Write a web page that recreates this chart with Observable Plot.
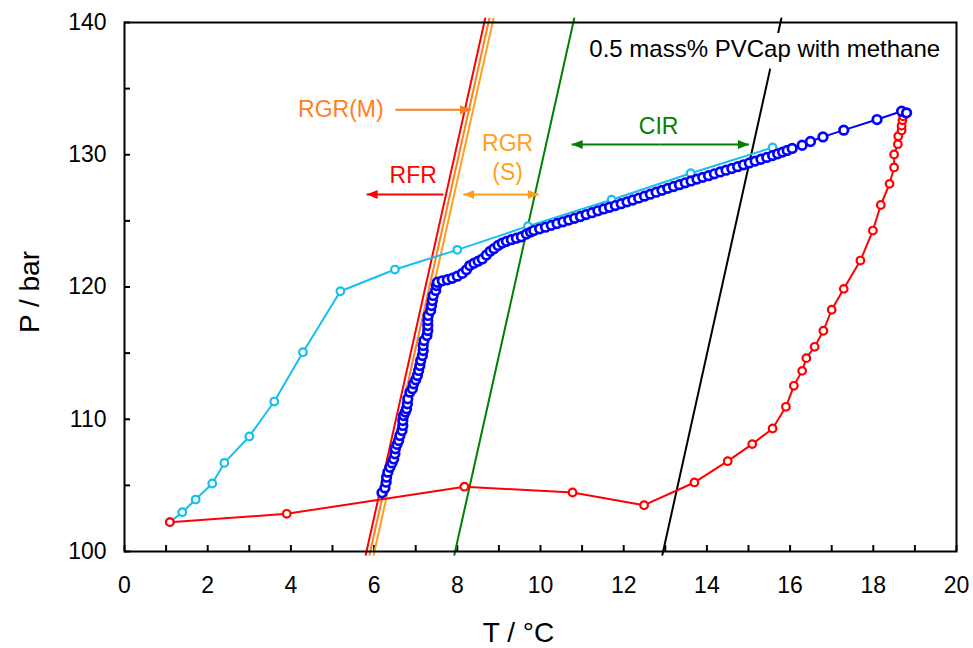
<!DOCTYPE html>
<html>
<head>
<meta charset="utf-8">
<script src="https://cdn.jsdelivr.net/npm/d3@7"></script>
<script src="https://cdn.jsdelivr.net/npm/@observablehq/plot@0.6"></script>
<style>
  html, body { margin: 0; padding: 0; background: #fff; }
  #chart { width: 973px; height: 648px; }
</style>
</head>
<body>
<div id="chart"></div>
<script>
// ---------- data (T in °C, P in bar) ----------
const cyanT = [1.09, 1.39, 1.71, 2.11, 2.40, 3.00, 3.60, 4.29, 5.19, 6.50, 8.00, 9.70, 11.71, 13.61, 15.58];
const cyanP = [102.22, 102.97, 103.93, 105.14, 106.70, 108.70, 111.34, 115.07, 119.68, 121.32, 122.81, 124.60, 126.60, 128.60, 130.55];

const redT = [1.09, 3.90, 8.17, 10.77, 12.49, 13.70, 14.50, 15.09, 15.58, 15.90, 16.09, 16.29, 16.39, 16.59, 16.80, 17.00,
  17.29, 17.69, 17.99, 18.18, 18.39, 18.50, 18.50, 18.59, 18.60, 18.68, 18.68, 18.70, 18.72, 18.78];
const redP = [102.22, 102.85, 104.90, 104.46, 103.50, 105.22, 106.83, 108.12, 109.30, 110.94, 112.53, 113.66, 114.62, 115.48, 116.69, 118.28,
  119.86, 122.00, 124.27, 126.20, 127.80, 129.04, 130.02, 130.80, 131.40, 131.83, 132.20, 132.60, 132.90, 133.10];

const blueT = [
  6.19, 6.26, 6.29, 6.30, 6.33, 6.38, 6.43, 6.47, 6.50, 6.51, 6.55, 6.59, 6.62, 6.67, 6.69, 6.69, 6.71, 6.75, 6.78, 6.80,
  6.81, 6.86, 6.92, 6.95, 7.00, 7.04, 7.07, 7.10, 7.12, 7.16, 7.18, 7.18, 7.20, 7.27, 7.29, 7.29, 7.29, 7.30, 7.36, 7.38,
  7.40, 7.42, 7.48, 7.50, 7.52, 7.64, 7.76, 7.88, 8.00, 8.12, 8.22, 8.30, 8.40, 8.50, 8.60, 8.70, 8.79, 8.88, 8.98, 9.08,
  9.18, 9.30, 9.42, 9.54, 9.66, 9.76, 9.84, 9.98, 10.12, 10.26, 10.40, 10.54, 10.68, 10.82, 10.96, 11.10, 11.24, 11.38, 11.52, 11.66,
  11.80, 11.94, 12.08, 12.22, 12.36, 12.50, 12.64, 12.78, 12.92, 13.06, 13.20, 13.34, 13.48, 13.62, 13.76, 13.90, 14.04, 14.18, 14.32, 14.46,
  14.60, 14.74, 14.88, 15.02, 15.16, 15.30, 15.44, 15.58, 15.70, 15.82, 15.93, 16.05, 16.29, 16.49, 16.79, 17.29, 18.09, 18.68, 18.80];
const blueP = [
  104.44, 104.81, 105.24, 105.62, 106.00, 106.37, 106.70, 107.00, 107.39, 107.77, 108.10, 108.39, 108.77, 109.15, 109.53, 109.90, 110.28, 110.55, 110.79, 111.17,
  111.55, 112.05, 112.30, 112.68, 112.98, 113.31, 113.69, 114.06, 114.44, 114.82, 115.20, 115.58, 115.95, 116.33, 116.71, 117.09, 117.47, 117.85, 118.22, 118.60,
  118.98, 119.36, 119.74, 120.11, 120.36, 120.47, 120.55, 120.66, 120.82, 121.03, 121.30, 121.62, 121.80, 121.95, 122.12, 122.42, 122.70, 122.90, 123.14, 123.32,
  123.45, 123.58, 123.69, 123.80, 124.00, 124.15, 124.27, 124.40, 124.52, 124.66, 124.80, 124.93, 125.06, 125.20, 125.33, 125.48, 125.62, 125.76, 125.90, 126.03,
  126.16, 126.30, 126.44, 126.58, 126.72, 126.87, 127.02, 127.17, 127.31, 127.46, 127.60, 127.74, 127.88, 128.02, 128.16, 128.29, 128.42, 128.56, 128.70, 128.83,
  128.96, 129.10, 129.24, 129.38, 129.52, 129.66, 129.80, 129.94, 130.07, 130.20, 130.33, 130.48, 130.72, 131.00, 131.35, 131.86, 132.66, 133.29, 133.17];

// reference boundary lines: T at the low and high pressure end
const refNames = ["RFR", "RGR(M)", "RGR(S)", "CIR", "PVCap"];
const refTLow  = [5.80, 5.89, 5.99, 7.93, 12.93];
const refTHigh = [8.67, 8.77, 8.87, 10.81, 15.79];
const refPLow = 99.75, refPHigh = 140.3;
const refColors = ["#ff0000", "#ff7f1f", "#ffa01c", "#008000", "#000000"];

// annotation labels
const labelText = ["RGR(M)", "RFR", "RGR", "(S)", "CIR", "0.5 mass% PVCap with methane"];
const labelT = [5.20, 6.94, 9.21, 9.21, 12.84, 15.39];
const labelP = [133.44, 128.43, 130.83, 128.66, 132.12, 138.0];
const labelColor = ["#ff7f1f", "#ff0000", "#ffa01c", "#ffa01c", "#008000", "#000000"];
const labelSize = [23, 23, 23, 23, 23, 24];

// arrows: from (T1,P) to (T2,P); double = heads at both ends
const arrowT1 = [6.51, 7.67, 8.14, 10.75];
const arrowT2 = [8.33, 5.82, 9.96, 15.01];
const arrowP = [133.40, 127.00, 127.00, 130.78];
const arrowDouble = [false, false, true, true];
const arrowColor = ["#ff7f1f", "#ff0000", "#ffa01c", "#008000"];

// axes ticks
const xTickLabels = [0, 2, 4, 6, 8, 10, 12, 14, 16, 18, 20];
const xTickMarks = [0, 1, 2, 3, 4, 5, 6, 7, 8, 9, 10, 11, 12, 13, 14, 15, 16, 17, 18, 19, 20];
const yTickLabels = [100, 110, 120, 130, 140];
const yTickMarks = [100, 105, 110, 115, 120, 125, 130, 135, 140];

// ---------- tables ----------
const toRows = (T, P) => T.map((t, i) => ({T: t, P: P[i]}));
const cyan = toRows(cyanT, cyanP);
const red = toRows(redT, redP);
const blue = toRows(blueT, blueP);
const labels = labelText.map((s, i) => ({s, T: labelT[i], P: labelP[i], c: labelColor[i], fs: labelSize[i]}));
const arrows = [];
arrowT1.forEach((t1, i) => {
  const t2 = arrowT2[i];
  if (arrowDouble[i]) {
    const m = (t1 + t2) / 2;
    arrows.push({T1: m, T2: t1, P: arrowP[i], c: arrowColor[i]});
    arrows.push({T1: m, T2: t2, P: arrowP[i], c: arrowColor[i]});
  } else {
    arrows.push({T1: t1, T2: t2, P: arrowP[i], c: arrowColor[i]});
  }
});

const W = 973, H = 648;
const mL = 124, mR = 17, mT = 22, mB = 97;
const frameW = W - mL - mR, frameH = H - mT - mB;
const FONT = "'Liberation Sans', Arial, Helvetica, sans-serif";

const marks = [];
// inward ticks
marks.push(Plot.ruleX(xTickMarks, {x: d => d, insetTop: frameH - 6, stroke: "black", strokeWidth: 2}));
marks.push(Plot.ruleY(yTickMarks, {y: d => d, insetRight: frameW - 6, stroke: "black", strokeWidth: 2}));
marks.push(Plot.axisX({ticks: xTickLabels, tickSize: 0, tickPadding: 25, fontSize: 23, label: null, tickFormat: d => String(d)}));
marks.push(Plot.axisY({ticks: yTickLabels, tickSize: 0, tickPadding: 18, fontSize: 23, label: null, tickFormat: d => String(d)}));

// reference lines
refNames.forEach((n, i) => {
  marks.push(Plot.line([{T: refTLow[i], P: refPLow}, {T: refTHigh[i], P: refPHigh}],
    {x: "T", y: "P", stroke: refColors[i], strokeWidth: 2}));
});

// annotation texts (with white halo for the PVCap label)
labels.forEach((d) => {
  const halo = d.s.startsWith("0.5");
  marks.push(Plot.text([d], {x: "T", y: "P", text: "s", fill: d.c, fontSize: d.fs,
    textAnchor: "middle", lineAnchor: "middle",
    stroke: halo ? "white" : null, strokeWidth: halo ? 22 : 0}));
});

// frame (after the halo so the border stays intact)
marks.push(Plot.frame({stroke: "black", strokeWidth: 2}));

// arrows
arrows.forEach((a) => {
  marks.push(Plot.link([a], {x1: "T1", y1: "P", x2: "T2", y2: "P", stroke: a.c, strokeWidth: 2, markerEnd: "arrow"}));
});

// data series
marks.push(Plot.line(cyan, {x: "T", y: "P", stroke: "#14c0f0", strokeWidth: 2}));
marks.push(Plot.dot(cyan, {x: "T", y: "P", r: 3.8, stroke: "#14c0f0", strokeWidth: 2.2, fill: "white"}));
marks.push(Plot.line(red, {x: "T", y: "P", stroke: "#ff0000", strokeWidth: 2}));
marks.push(Plot.dot(red, {x: "T", y: "P", r: 3.8, stroke: "#ff0000", strokeWidth: 2.2, fill: "white"}));
marks.push(Plot.line(blue, {x: "T", y: "P", stroke: "#0000ff", strokeWidth: 2}));
marks.push(Plot.dot(blue, {x: "T", y: "P", r: 4.3, stroke: "#0000ff", strokeWidth: 2.7, fill: "white"}));

// axis titles
marks.push(Plot.text(["T / °C"], {frameAnchor: "bottom", text: d => d, textAnchor: "middle", lineAnchor: "middle",
  dx: -22, dy: 82, fontSize: 28, fill: "black"}));
marks.push(Plot.text(["P / bar"], {frameAnchor: "left", text: d => d, textAnchor: "middle", lineAnchor: "middle",
  rotate: -90, dx: -94, dy: 5, fontSize: 28, fill: "black"}));

const chart = Plot.plot({
  width: W, height: H,
  marginLeft: mL, marginRight: mR, marginTop: mT, marginBottom: mB,
  x: {domain: [0, 20]},
  y: {domain: [100, 140]},
  style: {fontFamily: FONT, fontSize: "23px", color: "black", background: "white", overflow: "visible"},
  marks
});

// filled triangular arrowheads
chart.querySelectorAll("marker").forEach((m) => {
  const c = m.getAttribute("stroke") || m.getAttribute("fill") || "black";
  m.setAttribute("viewBox", "-12 -6 12 12");
  m.setAttribute("markerUnits", "userSpaceOnUse");
  m.setAttribute("markerWidth", "12");
  m.setAttribute("markerHeight", "12");
  m.setAttribute("refX", "0");
  m.setAttribute("refY", "0");
  m.setAttribute("fill", c);
  m.setAttribute("stroke", "none");
  m.innerHTML = '<path d="M-11,-4.5L0,0L-11,4.5Z"></path>';
});

document.getElementById("chart").appendChild(chart);
</script>
</body>
</html>
